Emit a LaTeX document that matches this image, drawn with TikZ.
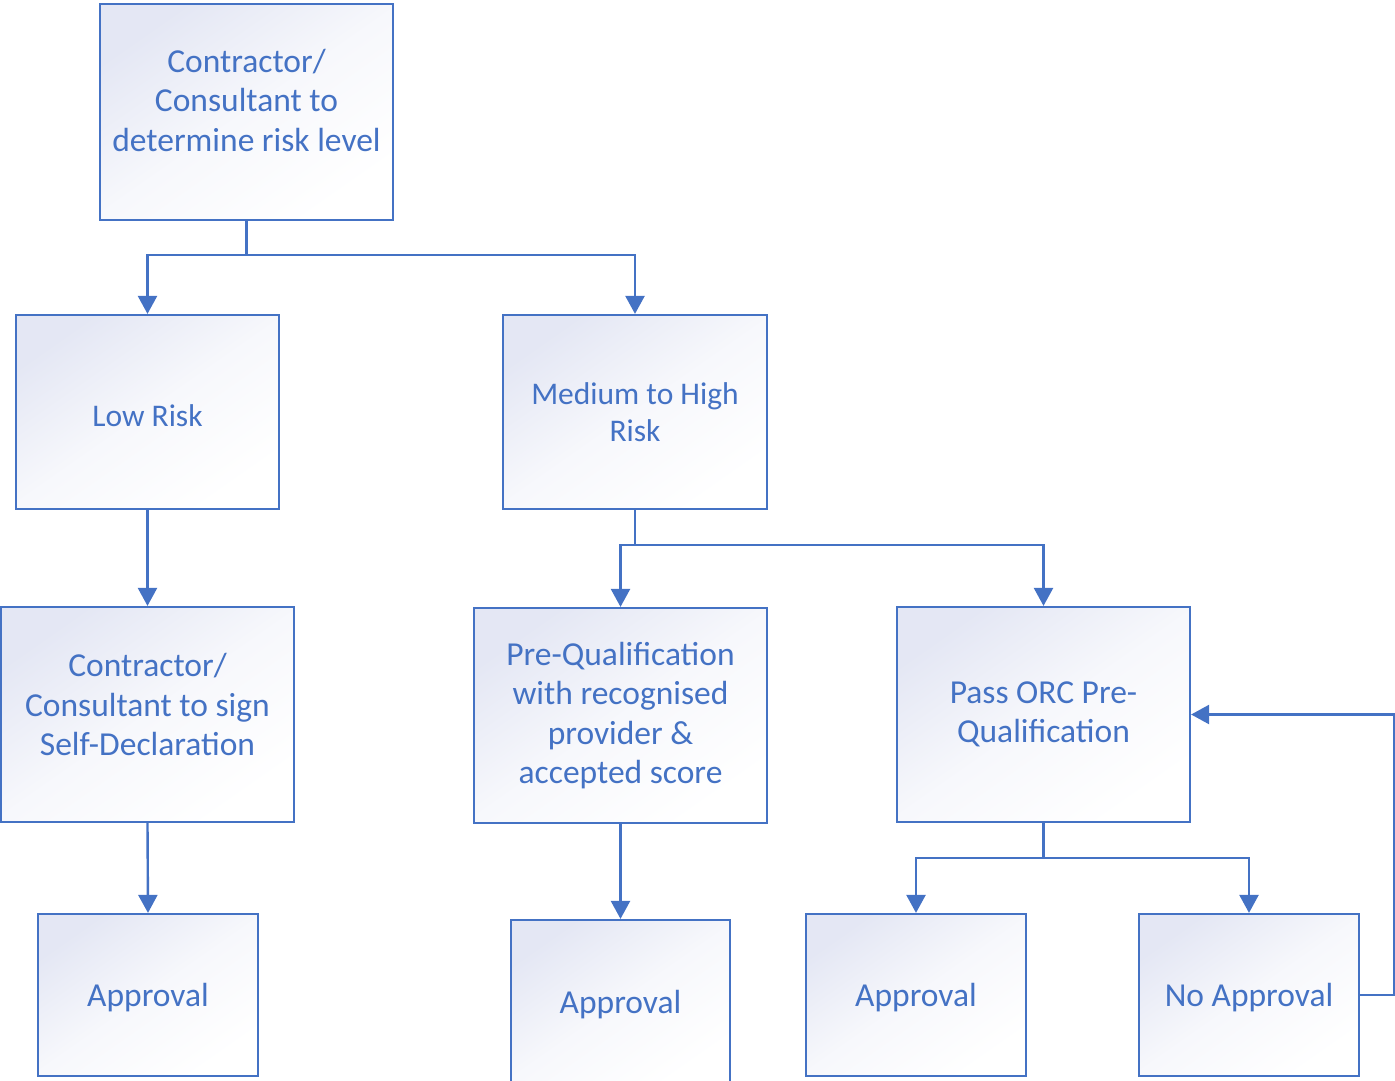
\documentclass[tikz,border=0pt]{standalone}
\usepackage{fontspec}
\setmainfont{Carlito}
\usetikzlibrary{arrows.meta}
\definecolor{vblue}{HTML}{4472C4}
\definecolor{vgrad}{RGB}{228,231,244}
\begin{document}
\begin{tikzpicture}[x=1pt,y=-1pt,
  box/.style={draw=vblue, line width=2.2pt, top color=vgrad, bottom color=white, middle color=vgrad!30!white, shading angle=35,
    inner sep=0pt, align=center, text=vblue, font=\fontsize{33.5}{39.5}\selectfont},
  smallbox/.style={box, font=\fontsize{31.5}{37}\selectfont},
  onebox/.style={box, text depth=0pt},
  txt/.style={align=center, text=vblue, font=\fontsize{33.5}{39.5}\selectfont},
  arr/.style={draw=vblue, line width=2.4pt, -{Triangle[width=19pt,length=18pt]}},
  ln/.style={draw=vblue, line width=2.4pt}]
\useasboundingbox (0,0) rectangle (1395,1081);
\node[box, minimum width=293pt, minimum height=216pt,
  label={[txt, yshift=12pt]center:Contractor/\\Consultant to\\determine risk level}] (top) at (246.5,112) {};
\node[box, minimum width=263pt, minimum height=194pt,
  label={[txt, font=\fontsize{31.5}{37}\selectfont, yshift=-4pt]center:Low Risk}] (low) at (147.5,412) {};
\node[smallbox, minimum width=264pt, minimum height=194pt] (med) at (635,412) {Medium to High\\Risk};
\node[box, minimum width=293pt, minimum height=215pt,
  label={[txt, yshift=10pt]center:Contractor/\\Consultant to sign\\Self-Declaration}] (self) at (147.5,714.5) {};
\node[box, minimum width=293pt, minimum height=215pt] (pre) at (620.5,715.5) {Pre-Qualification\\with recognised\\provider \&\\accepted score};
\node[box, minimum width=293pt, minimum height=215pt] (pass) at (1043.5,714.5) {Pass ORC Pre-\\Qualification};
\node[onebox, minimum width=220pt, minimum height=162pt] (ap1) at (148,995) {Approval};
\node[onebox, minimum width=219pt, minimum height=164pt] (ap2) at (620.5,1002) {Approval};
\node[onebox, minimum width=220pt, minimum height=162pt] (ap3) at (916,995) {Approval};
\node[onebox, minimum width=220pt, minimum height=162pt] (noap) at (1249,995) {No Approval};

\draw[ln] (top.south) -- ++(0,34) coordinate (j1);
\draw[arr] (j1) -| (low.north);
\draw[arr] (j1) -| (med.north);
\draw[arr] (low.south) -- (self.north);
\draw[arr] (self.south) -- (ap1.north);
\draw[ln] (med.south) -- ++(0,35) coordinate (j2);
\draw[arr] (j2) -| (pre.north);
\draw[arr] (j2) -| (pass.north);
\draw[arr] (pre.south) -- (ap2.north);
\draw[ln] (pass.south) -- ++(0,35) coordinate (j3);
\draw[arr] (j3) -| (ap3.north);
\draw[arr] (j3) -| (noap.north);
\draw[arr] (noap.east) -- ++(34,0) |- (pass.east);
\end{tikzpicture}
\end{document}
